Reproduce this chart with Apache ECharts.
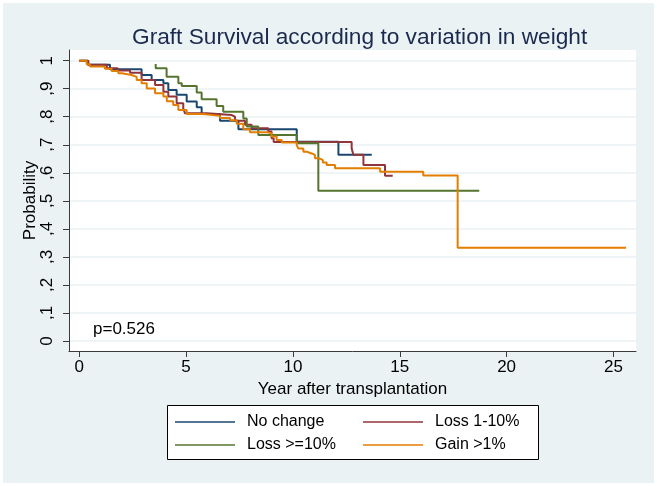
<!DOCTYPE html>
<html>
<head>
<meta charset="utf-8">
<script src="https://cdn.jsdelivr.net/npm/echarts@6/dist/echarts.min.js"></script>
<style>
  html, body { margin: 0; padding: 0; background: #fff; }
  #chart { position: absolute; left: 0; top: 0; width: 657px; height: 486px; }
  #frame { position: absolute; left: 0; top: 0; width: 657px; height: 486px; box-sizing: border-box; border: 3px solid #fff; pointer-events: none; }
</style>
</head>
<body>
<div id="chart"></div>
<div id="frame"></div>
<script>
// ---- Data (Kaplan-Meier step points: [year, probability]) ----
const seriesNames = ['No change', 'Loss 1-10%', 'Loss >=10%', 'Gain >1%'];
const noChange = [
  [0, 1.0], [0.4, 0.985], [1.44, 0.969], [2.92, 0.949], [3.39, 0.931], [3.94, 0.919],
  [4.17, 0.895], [4.56, 0.878], [5.03, 0.854], [5.5, 0.834], [5.73, 0.81], [6.59, 0.786],
  [7.45, 0.755], [10.18, 0.711], [12.13, 0.664], [13.69, 0.664]
];
const loss1to10 = [
  [0, 1.0], [0.43, 0.985], [1.29, 0.973], [1.8, 0.965], [2.38, 0.957], [2.92, 0.931],
  [3.55, 0.913], [3.94, 0.889], [4.17, 0.872], [4.56, 0.848], [4.87, 0.83], [4.95, 0.812],
  [5.97, 0.806], [7.14, 0.8], [7.29, 0.786], [7.76, 0.771], [8.07, 0.759], [8.85, 0.747],
  [9.0, 0.723], [9.1, 0.71], [12.75, 0.687], [12.83, 0.664], [13.3, 0.628], [14.31, 0.589],
  [14.67, 0.589]
];
const lossGe10 = [
  [3.58, 0.988], [3.58, 0.973], [4.09, 0.943], [4.64, 0.919], [4.8, 0.91], [5.5, 0.886],
  [5.73, 0.862], [6.43, 0.838], [6.74, 0.818], [7.68, 0.794], [7.84, 0.765], [8.38, 0.735],
  [10.18, 0.705], [11.19, 0.536], [18.72, 0.536]
];
const gainGt1 = [
  [0, 1.0], [0.35, 0.987], [0.5, 0.979], [1.2, 0.971], [1.52, 0.963], [1.83, 0.955],
  [2.0, 0.949], [2.45, 0.942], [2.69, 0.931], [2.92, 0.919], [3.16, 0.901], [3.55, 0.884],
  [3.94, 0.872], [4.1, 0.855], [4.4, 0.842], [4.64, 0.824], [5.03, 0.81], [5.8, 0.803],
  [6.59, 0.795], [7.06, 0.787], [7.37, 0.775], [7.68, 0.755], [7.99, 0.745], [8.77, 0.741],
  [9.0, 0.729], [9.24, 0.717], [9.48, 0.708], [10.18, 0.699], [10.25, 0.687], [10.49, 0.675],
  [10.65, 0.669], [10.88, 0.664], [11.03, 0.652], [11.19, 0.646], [11.4, 0.637], [11.58, 0.628],
  [11.97, 0.616], [14.08, 0.604], [16.1, 0.59], [17.71, 0.333], [25.59, 0.333]
];
const xTicks = [0, 5, 10, 15, 20, 25];
const yTicks = [0, 0.1, 0.2, 0.3, 0.4, 0.5, 0.6, 0.7, 0.8, 0.9, 1.0];
const yTickLabels = ['0', ',1', ',2', ',3', ',4', ',5', ',6', ',7', ',8', ',9', '1'];
const colors = ['#1a476f', '#90353b', '#55752f', '#e37e00'];

const FONT = 'Liberation Sans, Arial, sans-serif';
const chart = echarts.init(document.getElementById('chart'), null, { renderer: 'canvas' });

const allData = [noChange, loss1to10, lossGe10, gainGt1];
const series = allData.map((d, i) => ({
  name: seriesNames[i],
  type: 'line',
  step: 'end',
  data: d,
  showSymbol: false,
  symbol: 'none',
  color: colors[i],
  lineStyle: { color: colors[i], width: 2 },
  z: 3 + i
}));

const legendCommon = {
  orient: 'vertical',
  icon: 'rect',
  padding: 0,
  itemWidth: 60,
  itemHeight: 1.5,
  itemGap: 7,
  z: 10,
  textStyle: { fontSize: 16, color: '#000', fontFamily: FONT, lineHeight: 16, padding: [0, 0, 0, 7] }
};

const option = {
  backgroundColor: '#eaf2f3',
  animation: false,
  color: colors,
  title: [
    {
      text: 'Graft Survival according to variation in weight',
      left: 127, top: 21,
      textStyle: { fontSize: 22.7, fontWeight: 'normal', color: '#1a2a4e', fontFamily: FONT }
    },
    {
      text: 'p=0.526',
      left: 88, top: 316,
      textStyle: { fontSize: 17, fontWeight: 'normal', color: '#000', fontFamily: FONT }
    }
  ],
  grid: {
    left: 69, right: 21, top: 50, bottom: 135,
    show: true, backgroundColor: '#fff', borderWidth: 0,
    containLabel: false
  },
  xAxis: {
    type: 'value',
    min: -0.477, max: 26.055,
    name: 'Year after transplantation',
    nameLocation: 'middle',
    nameGap: 25,
    nameTextStyle: { fontSize: 17, color: '#000', fontFamily: FONT },
    axisLine: { show: true, onZero: false, lineStyle: { color: '#3a3a3a', width: 1 } },
    axisTick: { show: true, customValues: xTicks, length: 6, lineStyle: { color: '#3a3a3a' } },
    axisLabel: { show: true, customValues: xTicks, fontSize: 17, color: '#000', fontFamily: FONT, margin: 8 },
    splitLine: { show: false }
  },
  yAxis: {
    type: 'value',
    min: -0.0357, max: 1.038,
    name: 'Probability',
    nameLocation: 'middle',
    nameGap: 30,
    nameMoveOverlap: false,
    nameTextStyle: { fontSize: 17, color: '#000', fontFamily: FONT },
    axisLine: { show: true, onZero: false, lineStyle: { color: '#3a3a3a', width: 1 } },
    axisTick: { show: true, customValues: yTicks, length: 6, lineStyle: { color: '#3a3a3a' } },
    axisLabel: {
      show: true, customValues: yTicks, rotate: 90, fontSize: 17, color: '#000', fontFamily: FONT, margin: 13,
      formatter: v => yTickLabels[Math.round(v * 10)]
    },
    splitLine: { show: true, lineStyle: { color: '#eaf2f3', width: 1.5 } }
  },
  legend: [
    Object.assign({ left: 175, top: 414, data: [seriesNames[0], seriesNames[2]] }, legendCommon),
    Object.assign({ left: 363, top: 414, data: [seriesNames[1], seriesNames[3]] }, legendCommon)
  ],
  graphic: [
    {
      type: 'rect', left: 167, top: 405, z: 1,
      shape: { width: 371, height: 54 },
      style: { fill: '#fff', stroke: '#000', lineWidth: 1 }
    }
  ],
  series: series
};
chart.setOption(option);
</script>
</body>
</html>
